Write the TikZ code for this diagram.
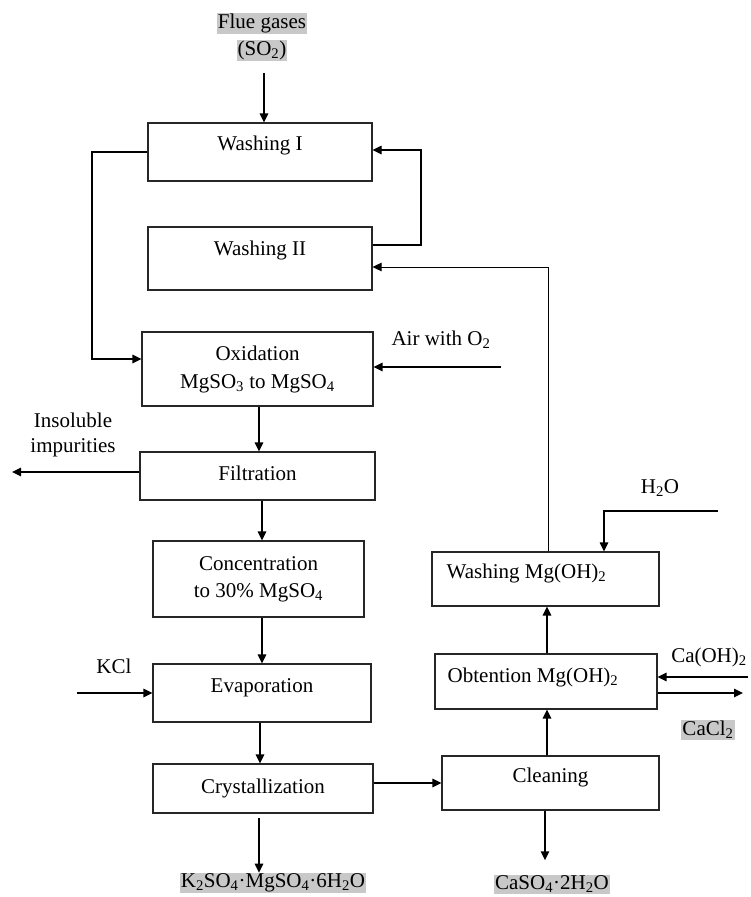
\documentclass[tikz,border=0pt]{standalone}
\usepackage{fontspec}
\setmainfont{Liberation Serif}
\usetikzlibrary{arrows.meta,calc}
\definecolor{hl}{RGB}{200,200,200}
\begin{document}
\begin{tikzpicture}[x=1pt,y=-1pt,
  font=\fontsize{21}{25}\selectfont,
  box/.style={draw=black!85, line width=1.1pt, rectangle, inner sep=0pt},
  arr/.style={-{Triangle[length=9pt,width=8.5pt]}, line width=1.5pt},
  tarr/.style={-{Triangle[length=9pt,width=8.5pt]}, line width=1.1pt},
  thinline/.style={line width=0.8pt},
  hlbl/.style={fill=hl, inner sep=1pt},
  plain/.style={inner sep=1pt},
  two/.style={align=center, font=\fontsize{21}{28}\selectfont}]
\useasboundingbox (0,0) rectangle (750,897);
\fill[white] (0,0) rectangle (750,897);

% ---- process boxes ----
\node[box, minimum width=224pt, minimum height=58pt,
  label={[yshift=7pt]center:Washing I}] (w1) at (260,152) {};
\node[box, minimum width=224pt, minimum height=63pt,
  label={[yshift=8pt]center:Washing II}] (w2) at (260,258.5) {};
\node[box, minimum width=231pt, minimum height=74pt,
  label={[two]center:{Oxidation\\MgSO\textsubscript{3} to MgSO\textsubscript{4}}}] (ox) at (257.5,369) {};
\node[box, minimum width=235pt, minimum height=48pt,
  label={[yshift=3pt]center:Filtration}] (fil) at (257.5,476) {};
\node[box, minimum width=211pt, minimum height=76pt,
  label={[two, font=\fontsize{21}{27}\selectfont]center:{Concentration\\to 30\% MgSO\textsubscript{4}}}] (con) at (258.5,579) {};
\node[box, minimum width=218pt, minimum height=58pt,
  label={[yshift=5pt]center:Evaporation}] (eva) at (262,693) {};
\node[box, minimum width=220pt, minimum height=49pt,
  label={center:Crystallization}] (cry) at (263,788.5) {};
\node[box, minimum width=217pt, minimum height=54pt,
  label={[yshift=6pt]center:Cleaning}] (cle) at (550.5,783) {};
\node[box, minimum width=222pt, minimum height=55pt,
  label={[xshift=-13pt,yshift=4pt]center:Obtention Mg(OH)\textsubscript{2}}] (obt) at (546,681.5) {};
\node[box, minimum width=227pt, minimum height=54pt,
  label={[xshift=-19pt,yshift=6pt]center:Washing Mg(OH)\textsubscript{2}}] (wmg) at (545.5,579) {};

% ---- stream labels ----
\node[align=center, inner sep=0pt, font=\fontsize{21}{27}\selectfont] (flue) at (262,37)
  {\fboxsep=1pt\colorbox{hl}{Flue gases}\\\fboxsep=1pt\colorbox{hl}{(SO\textsubscript{2})}};
\node[plain] (air) at (441,340) {Air with O\textsubscript{2}};
\node[plain, align=center, font=\fontsize{21}{25}\selectfont] (ins) at (73,435) {Insoluble\\impurities};
\node[plain] (kcl) at (114,666) {KCl};
\node[plain] (h2o) at (660,488) {H\textsubscript{2}O};
\node[plain] (caoh) at (709,657) {Ca(OH)\textsubscript{2}};
\node[hlbl] (cacl) at (708,730) {CaCl\textsubscript{2}};
\node[hlbl] (prod) at (273,883) {K\textsubscript{2}SO\textsubscript{4}·MgSO\textsubscript{4}·6H\textsubscript{2}O};
\node[hlbl] (gyp) at (552,884) {CaSO\textsubscript{4}·2H\textsubscript{2}O};

% ---- free ends and bends ----
\coordinate (fin) at (264,73);
\coordinate (k2) at (421,245);
\coordinate (k3) at (421,150);
\coordinate (k1) at (548,267);
\coordinate (k4) at (92,152);
\coordinate (k5) at (92,359);
\coordinate (airs) at (501,367);
\coordinate (insend) at (12,472);
\coordinate (kcls) at (77,693);
\coordinate (h2os) at (718,511);
\coordinate (h2ob) at (604,511);
\coordinate (caohs) at (748,677);
\coordinate (caclend) at (743,693);
\coordinate (oxf) at (259,0);

% ---- connectors ----
\draw[arr] (fin) -- (fin |- w1.north);
\draw[tarr] (k2 -| w2.east) -- (k2) -- (k3) -- (k3 -| w1.east);
\draw[tarr] (w1.west) -- (k4) -- (k5) -- (k5 -| ox.west);
\draw[thinline, -{Triangle[length=9pt,width=8.5pt]}] (wmg.north -| k1) -- (k1) -- (k1 -| w2.east);
\draw[arr] (airs) -- (airs -| ox.east);
\draw[arr] (oxf |- ox.south) -- (oxf |- fil.north);
\draw[arr] (insend -| fil.west) -- (insend);
\draw[arr] (fil.south -| 262,0) -- (con.north -| 262,0);
\draw[arr] (con.south -| 262,0) -- (eva.north -| 262,0);
\draw[arr] (kcls) -- (kcls -| eva.west);
\draw[arr] (eva.south -| 260,0) -- (cry.north -| 260,0);
\draw[arr, shorten <=4pt] (cry.south -| 259,0) -- (prod.north -| 259,0);
\draw[arr] (cle.west -| cry.east) -- (cle.west);
\draw[arr, shorten >=14pt] (cle.south -| 545,0) -- (gyp.north -| 545,0);
\draw[arr] (cle.north -| 547,0) -- (obt.south -| 547,0);
\draw[arr] (obt.north -| 547,0) -- (wmg.south -| 547,0);
\draw[tarr] (h2os) -- (h2ob) -- (h2ob |- wmg.north);
\draw[arr] (caohs) -- (caohs -| obt.east);
\draw[arr] (caclend -| obt.east) -- (caclend);
\end{tikzpicture}
\end{document}
